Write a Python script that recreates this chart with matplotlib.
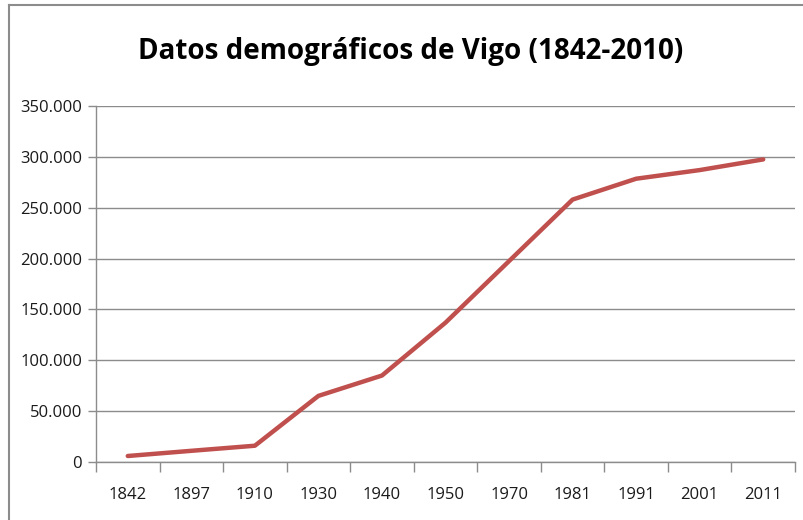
import matplotlib.pyplot as plt
from matplotlib.ticker import FuncFormatter, FixedLocator
from matplotlib.lines import Line2D

years = ["1842", "1897", "1910", "1930", "1940", "1950", "1970", "1981", "1991", "2001", "2011"]
population = [5900, 11000, 16000, 65000, 85000, 137000, 197500, 258000, 278500, 287000, 297500]

plt.rcParams['font.family'] = ['Open Sans', 'DejaVu Sans']

fig = plt.figure(figsize=(8.04, 5.2), dpi=100)
ax = fig.add_axes([96 / 804, 1 - 462 / 520, (795 - 96) / 804, (462 - 106) / 520])

x = list(range(len(years)))
ax.plot(x, population, color='#C0504D', linewidth=3.2, solid_capstyle='round')

ax.set_xlim(-0.5, len(years) - 0.5)
ax.set_ylim(0, 350000)
ax.set_yticks(range(0, 350001, 50000))
ax.yaxis.set_major_formatter(FuncFormatter(lambda v, p: f"{int(v):,}".replace(",", ".")))
ax.yaxis.grid(True, color='#8c8c8c', linewidth=1)
ax.set_axisbelow(True)

ax.set_xticks(x)
ax.set_xticklabels(years)
ax.xaxis.set_minor_locator(FixedLocator([i - 0.5 for i in range(len(years) + 1)]))
ax.tick_params(axis='x', which='major', length=0, pad=18, labelsize=12, labelcolor='#1a1a1a')
ax.tick_params(axis='x', which='minor', length=7, color='#8c8c8c', width=1)
ax.tick_params(axis='y', length=6, color='#8c8c8c', width=1, labelsize=12, labelcolor='#1a1a1a', pad=4)

for s in ['top', 'right']:
    ax.spines[s].set_visible(False)
for s in ['left', 'bottom']:
    ax.spines[s].set_color('#8c8c8c')
    ax.spines[s].set_linewidth(1)

fig.text(0.511, 1 - 52 / 520, "Datos demográficos de Vigo (1842-2010)", ha='center', va='center',
         fontsize=20, fontweight='bold', color='black')

# chart frame edges
fig.add_artist(Line2D([9 / 804, 1], [1 - 5 / 520, 1 - 5 / 520], transform=fig.transFigure, color='#8c8c8c', linewidth=1.5))
fig.add_artist(Line2D([9 / 804, 9 / 804], [0, 1 - 5 / 520], transform=fig.transFigure, color='#8c8c8c', linewidth=1.5))

fig.savefig("out.png", dpi=100)
